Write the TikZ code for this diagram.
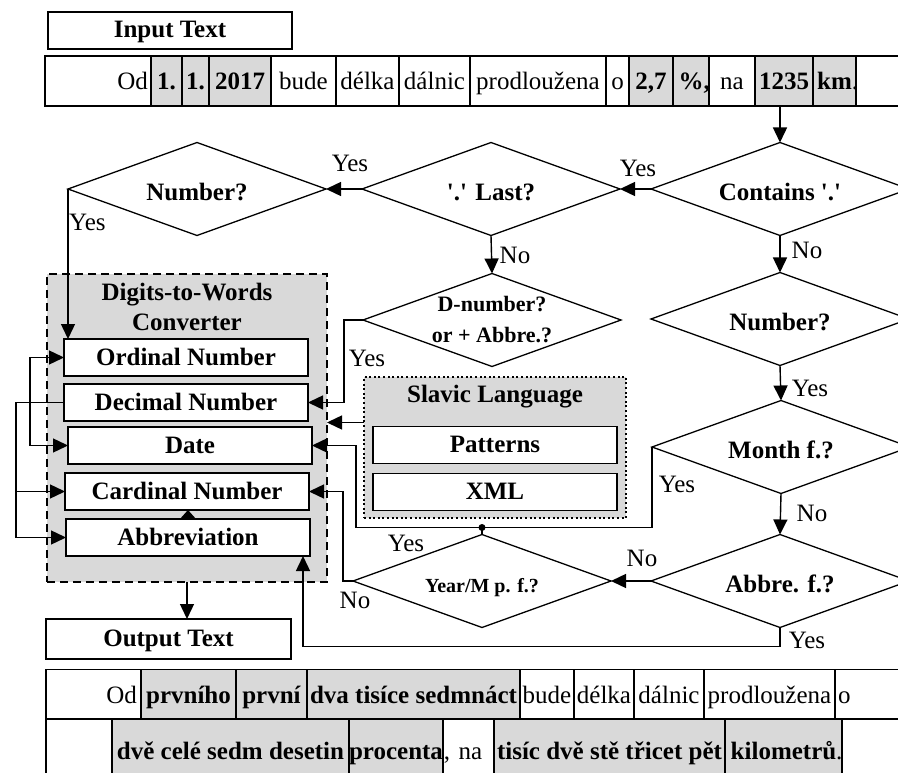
\documentclass[tikz,border=0pt]{standalone}
\usepackage{fontspec}
\setmainfont{Liberation Serif}
\usepackage{xcolor}
\definecolor{ink}{HTML}{000000}
\definecolor{shade}{HTML}{D9D9D9}
\usepackage{tikz}
\usetikzlibrary{positioning,arrows.meta,shapes.geometric,calc}
\newcommand{\fsize}{\fontsize{25pt}{30pt}\selectfont}
\newcommand{\qs}{\textquotesingle}

\begin{document}
\begin{tikzpicture}[
  x=1pt,y=-1pt,
  font=\fsize,
  cellw/.style={draw=ink,line width=1.2pt,fill=white,anchor=west,
    minimum height=50pt,inner xsep=0pt,inner ysep=0pt,outer sep=0pt,
    text height=21pt,text depth=4pt},
  cellg/.style={cellw,fill=shade,font=\fsize\bfseries},
  box/.style={draw=ink,line width=1.5pt,fill=white,minimum width=244pt,
    minimum height=37pt,inner sep=0pt,outer sep=0pt,
    text height=18pt,text depth=3pt,font=\fsize\bfseries},
  decision/.style={draw=ink,line width=1.3pt,shape=diamond,aspect=2.77,
    minimum width=258pt,minimum height=93pt,inner sep=-8pt,outer sep=0pt,
    text height=23pt,text depth=0pt,font=\fsize\bfseries},
  convbox/.style={draw=ink,line width=1.8pt,dash pattern=on 8pt off 5pt,
    fill=shade,inner sep=0pt,outer sep=0pt},
  slavbox/.style={draw=ink,line width=2pt,dash pattern=on 2pt off 2.6pt,
    fill=shade,inner sep=0pt,outer sep=0pt},
  lbl/.style={inner sep=0pt,font=\fsize},
  arrow/.style={-{Triangle[length=15pt,width=14pt]},line width=1.4pt,ink}
]
\useasboundingbox (0,0) rectangle (898,773);
\clip (0,0) rectangle (898,773);

% input sentence
\node[box] (intext) at (170,30.5) {Input Text};
\node[cellw,text width=100pt,inner xsep=3pt,align=right] (in0) at (45,81) {Od};
\node[cellg,minimum width=31pt,right=0pt of in0] (in1) {1.};
\node[cellg,minimum width=27pt,right=0pt of in1] (in2) {1.};
\node[cellg,minimum width=62pt,right=0pt of in2] (in3) {2017};
\node[cellw,minimum width=65pt,right=0pt of in3] (in4) {bude};
\node[cellw,minimum width=63pt,right=0pt of in4] (in5) {délka};
\node[cellw,minimum width=71pt,right=0pt of in5] (in6) {dálnic};
\node[cellw,minimum width=136pt,right=0pt of in6] (in7) {prodloužena};
\node[cellw,minimum width=23pt,right=0pt of in7] (in8) {o};
\node[cellg,minimum width=44pt,right=0pt of in8] (in9) {2,7};
\node[cellg,minimum width=36pt,right=0pt of in9] (in10) {\%\rlap{,}};
\node[cellw,minimum width=46pt,right=0pt of in10] (in11) {na};
\node[cellg,minimum width=58pt,right=0pt of in11] (in12) {1235};
\node[cellg,minimum width=43pt,right=0pt of in12] (in13) {km\rlap{\mdseries.}};
\node[cellw,minimum width=60pt,right=0pt of in13] (in14) {};

% decisions
\node[decision] (contains) at (780,189) {Contains \qs.\qs};
\node[decision] (last) at (491,189) {\qs.\qs{} Last?};
\node[decision] (numL) at (197,189) {Number?};
\node[decision,font=\fontsize{22pt}{31pt}\selectfont\bfseries,align=center,
  text height={},text depth={}] (dnum) at (492,320) {D-number?\\or + Abbre.?};
\node[decision] (numR) at (780,319) {Number?};
\node[decision] (month) at (781,447) {Month f.?};
\node[decision] (abbre) at (780,581) {Abbre. f.?};
\node[decision,font=\fontsize{20pt}{24pt}\selectfont\bfseries] (year) at (482,581) {Year/M p. f.?};

% converter
\node[convbox,minimum width=280pt,minimum height=308pt] (conv) at (187,428) {};
\node[font=\fsize\bfseries,align=center,inner sep=0pt,below=9pt of conv.north] (convtitle) {Digits-to-Words\\Converter};
\node[box] (ordinal) at (186,357.5) {Ordinal Number};
\node[box,below=8pt of ordinal] (decimal) {Decimal Number};
\node[box,below=6pt of decimal,xshift=4pt] (date) {Date};
\node[box,below=9pt of date,xshift=-3pt] (cardinal) {Cardinal Number};
\node[box,below=9pt of cardinal,xshift=1pt] (abbrev) {Abbreviation};

% language resources
\node[slavbox,minimum width=262pt,minimum height=141pt] (slavic) at (495,447.5) {};
\node[font=\fsize\bfseries,inner sep=0pt,below=8pt of slavic.north] (slavtitle) {Slavic Language};
\node[box] (patterns) at (495,445) {Patterns};
\node[box,below=10pt of patterns] (xml) {XML};

\node[box,minimum width=245pt,minimum height=40pt] (outtext) at (168.5,639) {Output Text};

% output sentence
\node[cellw,text width=87pt,inner xsep=4pt,align=right] (out0) at (46,694.5) {Od};
\node[cellg,minimum width=95pt,right=0pt of out0] (out1) {prvního};
\node[cellg,minimum width=71pt,right=0pt of out1] (out2) {první};
\node[cellg,minimum width=213pt,right=0pt of out2] (out3) {dva tisíce sedmnáct};
\node[cellw,minimum width=54pt,right=0pt of out3] (out4) {bude};
\node[cellw,minimum width=60pt,right=0pt of out4] (out5) {délka};
\node[cellw,minimum width=70pt,right=0pt of out5] (out6) {dálnic};
\node[cellw,minimum width=131pt,right=0pt of out6] (out7) {prodloužena};
\node[cellw,text width=76pt,inner xsep=3pt,align=left,right=0pt of out7] (out8) {o};
\node[cellw,minimum height=64pt,minimum width=66pt] (out9) at (46,751) {};
\node[cellg,minimum height=64pt,minimum width=237pt,right=0pt of out9] (out10) {dvě celé sedm desetin};
\node[cellg,minimum height=64pt,minimum width=93pt,right=0pt of out10] (out11) {procenta};
\node[cellw,minimum height=64pt,text width=49pt,inner xsep=1pt,align=left,right=0pt of out11] (out12) {, na};
\node[cellg,minimum height=64pt,minimum width=231pt,right=0pt of out12] (out13) {tisíc dvě stě třicet pět};
\node[cellg,minimum height=64pt,minimum width=117pt,right=0pt of out13] (out14) {kilometrů\rlap{\mdseries.}};
\node[cellw,minimum height=64pt,minimum width=80pt,right=0pt of out14] (out15) {};

% branch labels
\node[lbl] (yesA) at (638,168) {Yes};
\node[lbl] (yesB) at (350,163) {Yes};
\node[lbl,anchor=west] (yesC) at (69,222) {Yes};
\node[lbl] (noA) at (515,255) {No};
\node[lbl] (noB) at (807,250) {No};
\node[lbl] (yesD) at (367,358) {Yes};
\node[lbl] (yesE) at (810,388) {Yes};
\node[lbl] (yesF) at (677,484) {Yes};
\node[lbl] (noC) at (812,513) {No};
\node[lbl] (noD) at (642,558) {No};
\node[lbl] (yesG) at (406,543) {Yes};
\node[lbl] (noE) at (355,600) {No};
\node[lbl] (yesH) at (807,640) {Yes};

\coordinate (jn) at ($(year.north)+(0,-7)$);
\coordinate (dturn) at (356,527.5);
\coordinate (slavout) at ([yshift=25pt]slavic.west);
\coordinate[left=48pt of decimal.west] (busA);
\coordinate[left=34pt of decimal.west] (busB);

\draw[arrow] (contains.north |- in12.south) -- (contains.north);
\draw[arrow] (contains.west) -- (last.east);
\draw[arrow] (last.west) -- (numL.east);
\draw[arrow] (numL.west) -- (numL.west |- ordinal.north);
\draw[arrow] (last.south) -- (dnum.north);
\draw[arrow] (dnum.west) -- ++(-19,0) |- (decimal.east);
\draw[arrow] (contains.south) -- (numR.north);
\draw[arrow] (numR.south) -- (month.north);
\draw[arrow] (month.south) -- (abbre.north);
\draw[arrow] (abbre.west) -- (year.east);
\draw[arrow] (month.west) |- (dturn) |- (date.east);
\draw[line width=1.4pt] (year.north) -- (jn);
\fill[ink] (jn) circle (3.5pt);
\draw[arrow] (year.west) -- ++(-10,0) |- (cardinal.east);
\draw[arrow] (abbre.south) -- ++(0,19) -| ([xshift=-7pt]abbrev.south east);
\draw[arrow] (slavout) -- (slavout -| conv.east);
\draw[arrow] (conv.south) -- (conv.south |- outtext.north);
\draw[arrow] (decimal.west) -- (busA) |- (cardinal.west);
\draw[arrow] (busA) |- (abbrev.west);
\draw[arrow] (busB) |- (ordinal.west);
\draw[arrow] (busB) |- (date.west);
\draw[-{Triangle[length=8pt,width=14pt]},line width=1.4pt] (abbrev.north) -- (abbrev.north |- cardinal.south);

\end{tikzpicture}
\end{document}
